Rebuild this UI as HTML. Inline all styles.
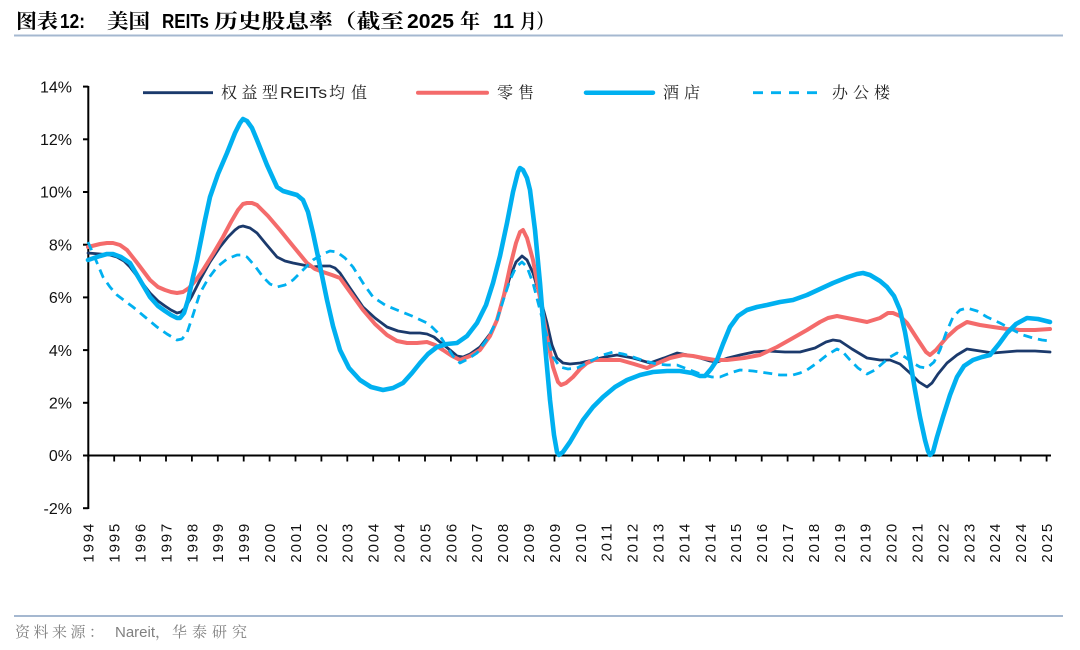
<!DOCTYPE html>
<html>
<head>
<meta charset="utf-8">
<style>
html,body{margin:0;padding:0;background:#fff;}
svg{display:block;}
</style>
</head>
<body>
<svg width="1080" height="650" viewBox="0 0 1080 650" xmlns="http://www.w3.org/2000/svg">
<rect width="1080" height="650" fill="#fff"/>

<!-- Title -->
<g font-weight="bold" font-size="20" fill="#000">
<text x="16" y="28" font-family="'Noto Serif CJK SC','Noto Sans CJK SC',serif" textLength="42" lengthAdjust="spacingAndGlyphs">图表</text>
<text x="60" y="28" font-family="'Liberation Sans',sans-serif" textLength="25" lengthAdjust="spacingAndGlyphs">12:</text>
<text x="107" y="28" font-family="'Noto Serif CJK SC','Noto Sans CJK SC',serif" textLength="43" lengthAdjust="spacingAndGlyphs">美国</text>
<text x="162" y="28" font-family="'Liberation Sans',sans-serif" textLength="47" lengthAdjust="spacingAndGlyphs">REITs</text>
<text x="214" y="28" font-family="'Noto Serif CJK SC','Noto Sans CJK SC',serif" textLength="190" lengthAdjust="spacingAndGlyphs">历史股息率（截至</text>
<text x="407" y="28" font-family="'Liberation Sans',sans-serif" textLength="47" lengthAdjust="spacingAndGlyphs">2025</text>
<text x="460" y="28" font-family="'Noto Serif CJK SC','Noto Sans CJK SC',serif">年</text>
<text x="493" y="28" font-family="'Liberation Sans',sans-serif" textLength="21" lengthAdjust="spacingAndGlyphs">11</text>
<text x="520" y="28" font-family="'Noto Serif CJK SC','Noto Sans CJK SC',serif" textLength="33" lengthAdjust="spacingAndGlyphs">月）</text>
</g>
<line x1="14" y1="35.5" x2="1063" y2="35.5" stroke="#a5b8d0" stroke-width="2"/>

<!-- Legend -->
<line x1="143" y1="92.7" x2="213" y2="92.7" stroke="#1b3a6c" stroke-width="2.8"/>
<text x="221" y="98" font-size="16" fill="#222"><tspan font-family="'Noto Serif CJK SC',serif" letter-spacing="4.5">权益型</tspan><tspan font-family="'Liberation Sans',sans-serif" x="280" textLength="47" lengthAdjust="spacingAndGlyphs">REITs</tspan><tspan font-family="'Noto Serif CJK SC',serif" x="329" letter-spacing="6">均值</tspan></text>
<line x1="418" y1="92.7" x2="487" y2="92.7" stroke="#f46b6b" stroke-width="4" stroke-linecap="round"/>
<text x="497" y="98" font-size="16" fill="#222" font-family="'Noto Serif CJK SC',serif" letter-spacing="5">零售</text>
<line x1="586" y1="92.7" x2="653" y2="92.7" stroke="#00b0f0" stroke-width="4.5" stroke-linecap="round"/>
<text x="663" y="98" font-size="16" fill="#222" font-family="'Noto Serif CJK SC',serif" letter-spacing="5">酒店</text>
<line x1="753" y1="92.7" x2="818" y2="92.7" stroke="#00b0f0" stroke-width="2.8" stroke-dasharray="10,8"/>
<text x="832" y="98" font-size="16" fill="#222" font-family="'Noto Serif CJK SC',serif" letter-spacing="5">办公楼</text>

<!-- Y axis labels -->
<g font-family="'Liberation Sans',sans-serif" font-size="16" fill="#111" text-anchor="end">
<text x="72" y="92.3">14%</text>
<text x="72" y="145">12%</text>
<text x="72" y="197.7">10%</text>
<text x="72" y="250.4">8%</text>
<text x="72" y="303.1">6%</text>
<text x="72" y="355.8">4%</text>
<text x="72" y="408.5">2%</text>
<text x="72" y="461.2">0%</text>
<text x="72" y="513.9">-2%</text>
</g>

<!-- Axes -->
<g stroke="#000" stroke-width="2">
<line x1="88.3" y1="86" x2="88.3" y2="509"/>
<line x1="83" y1="86.6" x2="88.3" y2="86.6"/>
<line x1="83" y1="139.3" x2="88.3" y2="139.3"/>
<line x1="83" y1="192" x2="88.3" y2="192"/>
<line x1="83" y1="244.7" x2="88.3" y2="244.7"/>
<line x1="83" y1="297.4" x2="88.3" y2="297.4"/>
<line x1="83" y1="350.1" x2="88.3" y2="350.1"/>
<line x1="83" y1="402.8" x2="88.3" y2="402.8"/>
<line x1="83" y1="455.5" x2="88.3" y2="455.5"/>
<line x1="83" y1="508.2" x2="88.3" y2="508.2"/>
<line x1="88.3" y1="455.5" x2="1051" y2="455.5"/>
</g>
<path stroke="#000" stroke-width="1.8" fill="none" d="M88.3,455.5v6M114.2,455.5v6M140.1,455.5v6M166,455.5v6M191.9,455.5v6M217.8,455.5v6M243.7,455.5v6M269.6,455.5v6M295.5,455.5v6M321.4,455.5v6M347.3,455.5v6M373.2,455.5v6M399.1,455.5v6M425,455.5v6M450.9,455.5v6M476.8,455.5v6M502.7,455.5v6M528.6,455.5v6M554.5,455.5v6M580.4,455.5v6M606.3,455.5v6M632.2,455.5v6M658.1,455.5v6M684,455.5v6M709.9,455.5v6M735.8,455.5v6M761.7,455.5v6M787.6,455.5v6M813.5,455.5v6M839.4,455.5v6M865.3,455.5v6M891.2,455.5v6M917.1,455.5v6M943,455.5v6M968.9,455.5v6M994.8,455.5v6M1020.7,455.5v6M1046.6,455.5v6"/>

<!-- X axis labels -->
<g font-family="'Liberation Sans',sans-serif" font-size="15" fill="#111" letter-spacing="1.8" text-anchor="end">
<text transform="translate(88.3,522) rotate(-90)" dy="0.36em">1994</text>
<text transform="translate(114.2,522) rotate(-90)" dy="0.36em">1995</text>
<text transform="translate(140.1,522) rotate(-90)" dy="0.36em">1996</text>
<text transform="translate(166,522) rotate(-90)" dy="0.36em">1997</text>
<text transform="translate(191.9,522) rotate(-90)" dy="0.36em">1998</text>
<text transform="translate(217.8,522) rotate(-90)" dy="0.36em">1999</text>
<text transform="translate(243.7,522) rotate(-90)" dy="0.36em">1999</text>
<text transform="translate(269.6,522) rotate(-90)" dy="0.36em">2000</text>
<text transform="translate(295.5,522) rotate(-90)" dy="0.36em">2001</text>
<text transform="translate(321.4,522) rotate(-90)" dy="0.36em">2002</text>
<text transform="translate(347.3,522) rotate(-90)" dy="0.36em">2003</text>
<text transform="translate(373.2,522) rotate(-90)" dy="0.36em">2004</text>
<text transform="translate(399.1,522) rotate(-90)" dy="0.36em">2004</text>
<text transform="translate(425,522) rotate(-90)" dy="0.36em">2005</text>
<text transform="translate(450.9,522) rotate(-90)" dy="0.36em">2006</text>
<text transform="translate(476.8,522) rotate(-90)" dy="0.36em">2007</text>
<text transform="translate(502.7,522) rotate(-90)" dy="0.36em">2008</text>
<text transform="translate(528.6,522) rotate(-90)" dy="0.36em">2009</text>
<text transform="translate(554.5,522) rotate(-90)" dy="0.36em">2009</text>
<text transform="translate(580.4,522) rotate(-90)" dy="0.36em">2010</text>
<text transform="translate(606.3,522) rotate(-90)" dy="0.36em">2011</text>
<text transform="translate(632.2,522) rotate(-90)" dy="0.36em">2012</text>
<text transform="translate(658.1,522) rotate(-90)" dy="0.36em">2013</text>
<text transform="translate(684,522) rotate(-90)" dy="0.36em">2014</text>
<text transform="translate(709.9,522) rotate(-90)" dy="0.36em">2014</text>
<text transform="translate(735.8,522) rotate(-90)" dy="0.36em">2015</text>
<text transform="translate(761.7,522) rotate(-90)" dy="0.36em">2016</text>
<text transform="translate(787.6,522) rotate(-90)" dy="0.36em">2017</text>
<text transform="translate(813.5,522) rotate(-90)" dy="0.36em">2018</text>
<text transform="translate(839.4,522) rotate(-90)" dy="0.36em">2019</text>
<text transform="translate(865.3,522) rotate(-90)" dy="0.36em">2019</text>
<text transform="translate(891.2,522) rotate(-90)" dy="0.36em">2020</text>
<text transform="translate(917.1,522) rotate(-90)" dy="0.36em">2021</text>
<text transform="translate(943,522) rotate(-90)" dy="0.36em">2022</text>
<text transform="translate(968.9,522) rotate(-90)" dy="0.36em">2023</text>
<text transform="translate(994.8,522) rotate(-90)" dy="0.36em">2024</text>
<text transform="translate(1020.7,522) rotate(-90)" dy="0.36em">2024</text>
<text transform="translate(1046.6,522) rotate(-90)" dy="0.36em">2025</text>
</g>

<!-- Series -->
<polyline fill="none" stroke="#1b3a6c" stroke-width="2.8" stroke-linejoin="round" stroke-linecap="round" points="88,253 100,254 110,255 117,257 124,261 130,267 140,280 150,293 158,301 165,306 171,310 177,313 181,312 185,308 192,296 200,280 210,262 220,247 228,237 235,230 239,227 243,226 250,228 257,233 266,244 277,257 285,261 293,263 303,265 313,267 322,266 330,266 335,268 340,273 350,288 363,307 375,318 387,327 398,331 410,333 420,333 427,334 434,337 440,342 450,350 457,356 463,357 470,354 480,347 490,334 497,320 503,300 510,277 516,262 522,256 527,260 533,273 540,297 547,323 552,345 557,358 563,363 570,364 580,363 593,360 605,357 617,355 633,358 650,363 664,358 677,353 688,355 700,358 710,361 717,362 728,358 740,355 754,352 767,351 785,352 800,352 815,348 826,342 833,340 840,341 852,349 867,358 880,360 890,360 900,364 910,373 919,382 927,387 932,383 938,374 947,363 957,355 967,349 980,351 993,353 1005,352 1017,351 1035,351 1050,352"/>
<polyline fill="none" stroke="#f46b6b" stroke-width="4" stroke-linejoin="round" stroke-linecap="round" points="88,247 100,244 107,243 113,243 120,245 127,250 138,264 150,280 158,287 165,290 171,292 177,293 183,292 189,288 196,280 203,270 213,254 223,237 231,222 238,210 243,204 247,203 252,203 257,205 268,216 280,230 293,246 307,263 315,269 323,272 332,275 340,278 350,292 363,310 375,324 387,335 397,341 407,343 417,343 427,342 435,345 443,350 452,356 460,360 470,356 480,350 490,336 497,320 504,295 510,267 516,243 520,232 523,230 527,238 533,260 540,298 547,337 553,367 558,382 561,385 566,383 573,377 580,369 587,363 594,360 600,360 610,360 620,360 634,364 647,368 658,363 670,358 683,355 693,356 703,358 715,360 727,360 744,358 760,355 777,347 793,338 807,330 820,322 828,318 837,316 852,319 867,322 880,318 888,313 893,313 900,316 907,323 918,340 926,352 930,355 936,350 947,337 957,328 967,322 980,325 993,327 1007,329 1020,330 1035,330 1050,329"/>
<polyline fill="none" stroke="#00b0f0" stroke-width="4.6" stroke-linejoin="round" stroke-linecap="round" points="88,260 94,258 100,256 107,254 113,254 121,257 130,263 140,280 150,297 158,306 165,311 171,315 177,318 180,318 184,313 188,300 193,277 197,260 200,245 205,220 210,197 218,174 227,153 235,133 240,123 243,119 247,121 252,128 257,140 267,165 277,187 283,191 290,193 297,195 303,200 308,212 313,233 320,266 327,300 333,326 340,350 349,368 360,380 371,387 383,390 393,388 403,383 412,373 420,363 428,354 437,347 447,344 457,343 467,336 477,323 486,305 493,283 500,256 507,223 513,192 518,172 520,168 523,170 527,178 530,190 535,230 540,283 545,345 550,400 554,435 557,452 559,455 563,452 570,442 583,420 593,407 603,397 615,387 627,380 640,375 653,372 667,371 680,371 692,373 700,376 705,376 711,369 717,360 723,344 730,327 738,316 747,310 757,307 767,305 780,302 793,300 807,295 820,289 833,283 848,277 857,274 863,273 870,275 880,281 887,287 894,296 900,310 905,332 910,360 915,390 920,417 925,440 928,451 930,455 933,452 937,437 943,417 950,395 957,377 964,366 973,360 982,357 990,355 999,344 1007,333 1016,324 1027,318 1038,319 1050,322"/>
<polyline fill="none" stroke="#00b0f0" stroke-width="2.8" stroke-dasharray="9,6" stroke-linejoin="round" points="88,242 95,258 103,277 110,287 117,295 125,301 133,307 145,317 157,327 167,334 177,340 182,339 187,333 193,315 200,293 208,279 217,267 227,259 237,255 242,255 247,257 255,266 263,277 270,284 277,287 285,285 293,280 303,270 313,260 323,254 330,251 337,252 345,258 353,267 363,283 373,297 385,305 397,310 412,316 427,323 432,327 437,332 442,339 447,347 453,356 460,363 468,359 477,353 488,338 497,320 504,298 510,280 516,267 522,262 527,267 533,283 540,310 547,337 553,357 560,367 568,369 577,368 585,364 593,360 603,355 613,352 623,354 633,357 645,361 657,364 667,365 677,365 690,370 703,375 712,377 720,377 730,373 740,370 753,371 767,373 780,375 793,375 800,373 807,370 817,363 827,355 837,349 843,352 850,360 858,368 867,374 875,370 883,363 890,357 897,353 905,357 913,363 920,367 927,368 934,362 940,350 946,333 953,317 960,310 967,308 977,311 987,317 1000,323 1013,330 1023,335 1033,338 1042,340 1050,341"/>

<!-- Footer -->
<line x1="14" y1="616" x2="1063" y2="616" stroke="#a5b8d0" stroke-width="2"/>
<text x="15" y="637" font-size="15" fill="#808080"><tspan font-family="'Noto Serif CJK SC',serif" letter-spacing="3.5">资料来源：</tspan><tspan x="115" font-family="'Liberation Sans',sans-serif">Nareit</tspan><tspan font-family="'Noto Serif CJK SC',serif">，</tspan><tspan x="172" font-family="'Noto Serif CJK SC',serif" letter-spacing="5">华泰研究</tspan></text>
</svg>
</body>
</html>
